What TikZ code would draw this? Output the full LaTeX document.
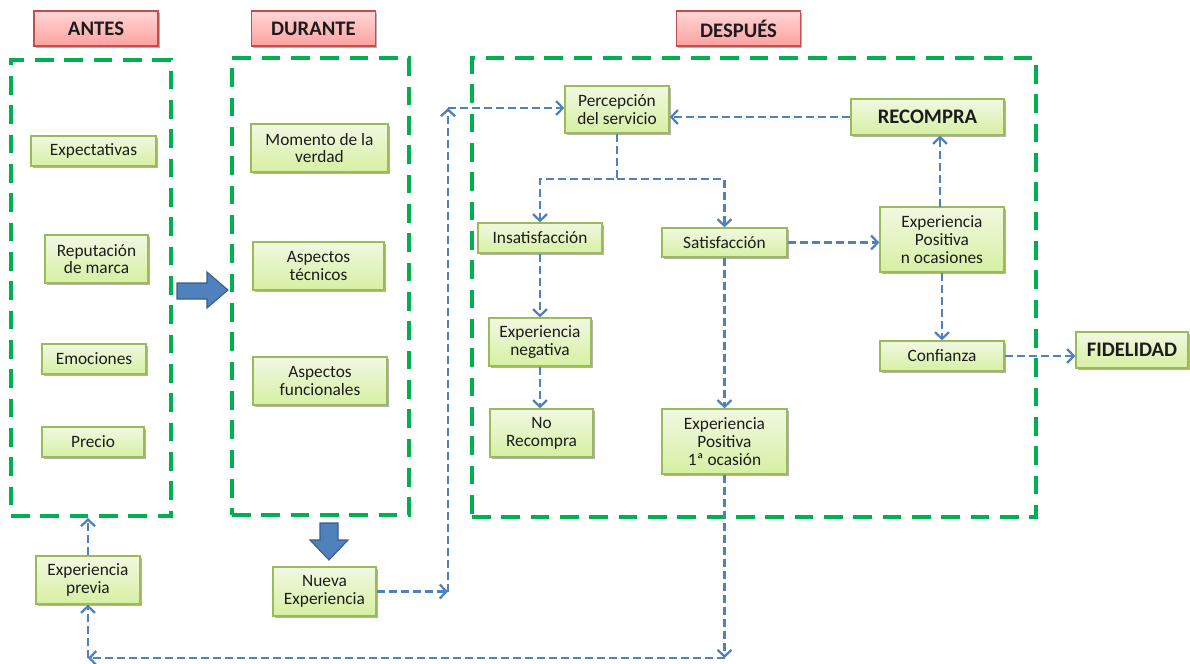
\documentclass[tikz,border=0pt]{standalone}
\usepackage{fontspec}
\setmainfont{Carlito}
\usetikzlibrary{arrows.meta,shadows}

\definecolor{frame}{RGB}{0,176,80}
\definecolor{flowblue}{RGB}{79,129,189}
\definecolor{flowdark}{RGB}{56,93,138}
\definecolor{boxline}{RGB}{155,187,89}
\definecolor{boxtop}{RGB}{241,248,226}
\definecolor{boxbot}{RGB}{214,240,162}
\definecolor{headline}{RGB}{192,80,77}
\definecolor{headtop}{RGB}{255,214,214}
\definecolor{headbot}{RGB}{255,160,160}
\definecolor{ink}{RGB}{28,28,28}

\tikzset{
  sz/.style 2 args={minimum width=#1*0.75pt, minimum height=#2*0.75pt},
  softshadow/.style={drop shadow={shadow xshift=1.2pt, shadow yshift=-1.4pt, opacity=0.3, fill=black}},
  phase/.style={draw=frame, line width=3pt, dash pattern=on 14pt off 8pt, inner sep=0pt},
  stage/.style={draw=headline, line width=0.9pt, top color=headtop, bottom color=headbot,
    font=\fontsize{15.5}{18}\selectfont\bfseries, text=ink, inner sep=0pt, sz={124}{35}, softshadow},
  item/.style={draw=boxline, line width=1pt, top color=boxtop, bottom color=boxbot,
    font=\fontsize{13}{13.3}\selectfont, text=ink, align=center, inner sep=0pt, softshadow},
  goal/.style={item, font=\fontsize{15.5}{18}\selectfont\bfseries},
  flow/.style={draw=flowblue, line width=1.7pt, dash pattern=on 6pt off 3pt,
    -{Straight Barb[length=5pt,width=10.5pt]}},
  block/.style={fill=flowblue, draw=flowdark, line width=0.8pt, line join=miter}
}

\begin{document}
\begin{tikzpicture}[x=0.75pt,y=-0.75pt]
\useasboundingbox (0,0) rectangle (1190,664);

% phase headers
\node[stage] (antes)   at (96,28.5)    {ANTES};
\node[stage] (durante) at (313.5,28.5) {DURANTE};
\node[stage] (despues) at (738.5,28.5) {DESPUÉS};

% dashed phase frames
\node[phase, sz={160}{456}] (fase1) at (91,288) {};
\node[phase, sz={177}{457}] (fase2) at (320.5,286.5) {};
\node[phase, sz={564}{459}] (fase3) at (754,287.5) {};

% before
\node[item, sz={125}{30}] (expect) at (93.5,151) {Expectativas};
\node[item, sz={103}{48}] (reput)  at (96.5,259) {Reputación\\de marca};
\node[item, sz={104}{30}] (emoc)   at (94,359)   {Emociones};
\node[item, sz={102}{30}] (precio) at (93,442)   {Precio};
\node[item, sz={104}{48}] (previa) at (88,580)   {Experiencia\\previa};

% during
\node[item, sz={137}{48}] (momento) at (319.5,148) {Momento de la\\verdad};
\node[item, sz={131}{48}] (tecn)    at (318.5,266) {Aspectos\\técnicos};
\node[item, sz={134}{48}] (func)    at (320,381)   {Aspectos\\funcionales};
\node[item, sz={103}{49}] (nueva)   at (324.5,591.5) {Nueva\\Experiencia};

% after
\node[item, sz={104}{47}] (perc)   at (617,109.5) {Percepción\\del servicio};
\node[item, sz={124}{30}] (insat)  at (540,238)   {Insatisfacción};
\node[item, sz={125}{29}] (sat)    at (724.5,242.5) {Satisfacción};
\node[item, sz={102}{48}] (expneg) at (540,342)   {Experiencia\\negativa};
\node[item, sz={103}{48}] (norec)  at (541.5,433) {No\\Recompra};
\node[item, sz={125}{65}] (exp1)   at (724.5,441.5) {Experiencia\\Positiva\\1ª ocasión};
\node[goal, sz={153}{36}] (recompra) at (927.5,117) {RECOMPRA};
\node[item, sz={124}{65}] (expn)   at (942,239.5) {Experiencia\\Positiva\\n ocasiones};
\node[item, sz={124}{30}] (confi)  at (942,356)   {Confianza};
\node[goal, sz={112}{36}] (fidel)  at (1132,350)  {FIDELIDAD};

% block arrows between phases
\draw[block] (177,283) -- (207,283) -- (207,272) -- (228,290) -- (207,308) -- (207,299) -- (177,299) -- cycle;
\draw[block] (320,523) -- (338,523) -- (338,540) -- (348,540) -- (329,560) -- (310,540) -- (320,540) -- cycle;

% routing points
\coordinate (c1) at (448,591.5);
\coordinate (c2) at (448,108);
\coordinate (split) at (617,179);
\coordinate (b1) at (724.5,658);
\coordinate (b2) at (88,658);
\coordinate (up1) at (940,207);

% connectors
\draw[flow] (previa.north) -- (previa.north |- fase1.south);
\draw[flow] (nueva.east) -- (c1);
\draw[flow] (c1) -- (c2);
\draw[flow] (c2) -- (c2 -| perc.west);
\draw[flow] (perc.south) -- (split) -| (insat.north);
\draw[flow] (split) -| (sat.north);
\draw[flow] (insat.south) -- (insat.south |- expneg.north);
\draw[flow] (expneg.south) -- (expneg.south |- norec.north);
\draw[flow] (sat.south) -- (exp1.north);
\draw[flow] (sat.east) -- (sat.east -| expn.west);
\draw[flow] (up1) -- (up1 |- recompra.south);
\draw[flow] (expn.south) -- (confi.north);
\draw[flow] (recompra.west) -- (recompra.west -| perc.east);
\draw[flow] (confi.east) -- (confi.east -| fidel.west);
\draw[flow] (exp1.south) -- (b1);
\draw[flow] (b1) -- (b2);
\draw[flow] (b2) -- (previa.south);
\end{tikzpicture}
\end{document}
